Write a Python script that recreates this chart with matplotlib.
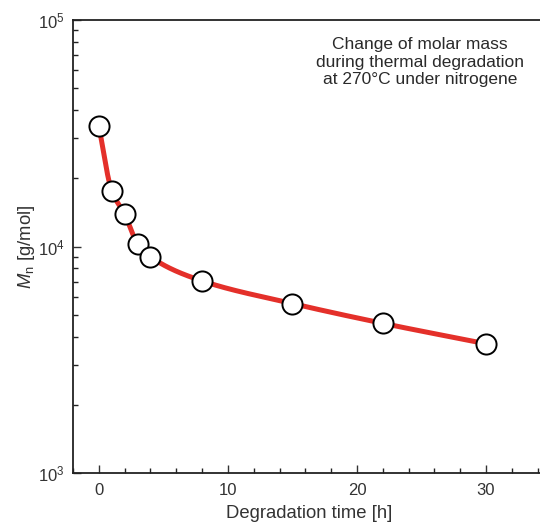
import numpy as np
import matplotlib
matplotlib.use("Agg")
import matplotlib.pyplot as plt
from matplotlib.ticker import LogLocator, MultipleLocator, FixedLocator

plt.rcParams['font.family'] = ['Liberation Sans', 'DejaVu Sans']
plt.rcParams['mathtext.fontset'] = 'custom'
plt.rcParams['mathtext.rm'] = 'Liberation Sans'
plt.rcParams['mathtext.it'] = 'Liberation Sans:italic'

time_h = [0, 1, 2, 3, 4, 8, 15, 22, 30]
mn = [34000, 17600, 13900, 10300, 9000, 7050, 5600, 4580, 3720]
x_ticks = [0, 10, 20, 30]
annotation = "Change of molar mass\nduring thermal degradation\nat 270°C under nitrogene"


def pchip(x, y, xs):
    x = np.asarray(x, float); y = np.asarray(y, float)
    h = np.diff(x); d = np.diff(y) / h
    m = np.zeros_like(y)
    for k in range(1, len(x) - 1):
        if d[k-1] * d[k] > 0:
            w1 = 2*h[k] + h[k-1]; w2 = h[k] + 2*h[k-1]
            m[k] = (w1 + w2) / (w1/d[k-1] + w2/d[k])
    m[0] = d[0]; m[-1] = d[-1]
    idx = np.clip(np.searchsorted(x, xs) - 1, 0, len(x) - 2)
    t = (xs - x[idx]) / h[idx]
    h00 = 2*t**3 - 3*t**2 + 1; h10 = t**3 - 2*t**2 + t
    h01 = -2*t**3 + 3*t**2; h11 = t**3 - t**2
    return h00*y[idx] + h10*h[idx]*m[idx] + h01*y[idx+1] + h11*h[idx]*m[idx+1]


fig = plt.figure(figsize=(5.4, 5.22), dpi=100)
ax = fig.add_axes([73/540, 1 - 473/522, 1 - 73/540 + 0.01, (473 - 20)/522])

xs = np.linspace(time_h[0], time_h[-1], 400)
ys = 10 ** pchip(time_h, np.log10(mn), xs)
ax.plot(xs, ys, color='#e4302a', lw=3.6, solid_capstyle='round', zorder=2)
ax.plot(time_h, mn, 'o', ms=14.5, mfc='white', mec='black', mew=1.4, zorder=3)

ax.set_yscale('log')
ax.set_ylim(1e3, 1e5)
ax.set_xlim(-2, 34.6)
ax.xaxis.set_major_locator(FixedLocator(x_ticks))
ax.xaxis.set_minor_locator(MultipleLocator(2))
ax.yaxis.set_major_locator(LogLocator(base=10))
ax.yaxis.set_minor_locator(LogLocator(base=10, subs=np.arange(2, 10)))
ax.yaxis.set_minor_formatter(plt.NullFormatter())

ax.tick_params(which='both', direction='in', color='#222222', width=1.0)
ax.tick_params(which='major', length=6, labelsize=12, colors='#333333')
ax.tick_params(which='minor', length=3.5)
ax.tick_params(axis='x', which='major', pad=7)
ax.tick_params(axis='y', which='major', pad=6)
ax.tick_params(axis='x', which='both', top=False)
ax.tick_params(axis='y', which='both', right=False)
ax.spines['right'].set_visible(False)
for s in ('left', 'bottom', 'top'):
    ax.spines[s].set_linewidth(1.3)
    ax.spines[s].set_color('#222222')

ax.set_xlabel('Degradation time [h]', fontsize=13.3, color='#333333', labelpad=5)
ax.set_ylabel(r'$\mathit{M}_{\mathrm{n}}$ [g/mol]', fontsize=13.3, color='#333333', labelpad=1)

ax.text(0.735, 0.962, annotation, transform=ax.transAxes, ha='center', va='top',
        fontsize=12.5, color='#2a2a2a', linespacing=1.2)

fig.savefig('out.png', dpi=100)
